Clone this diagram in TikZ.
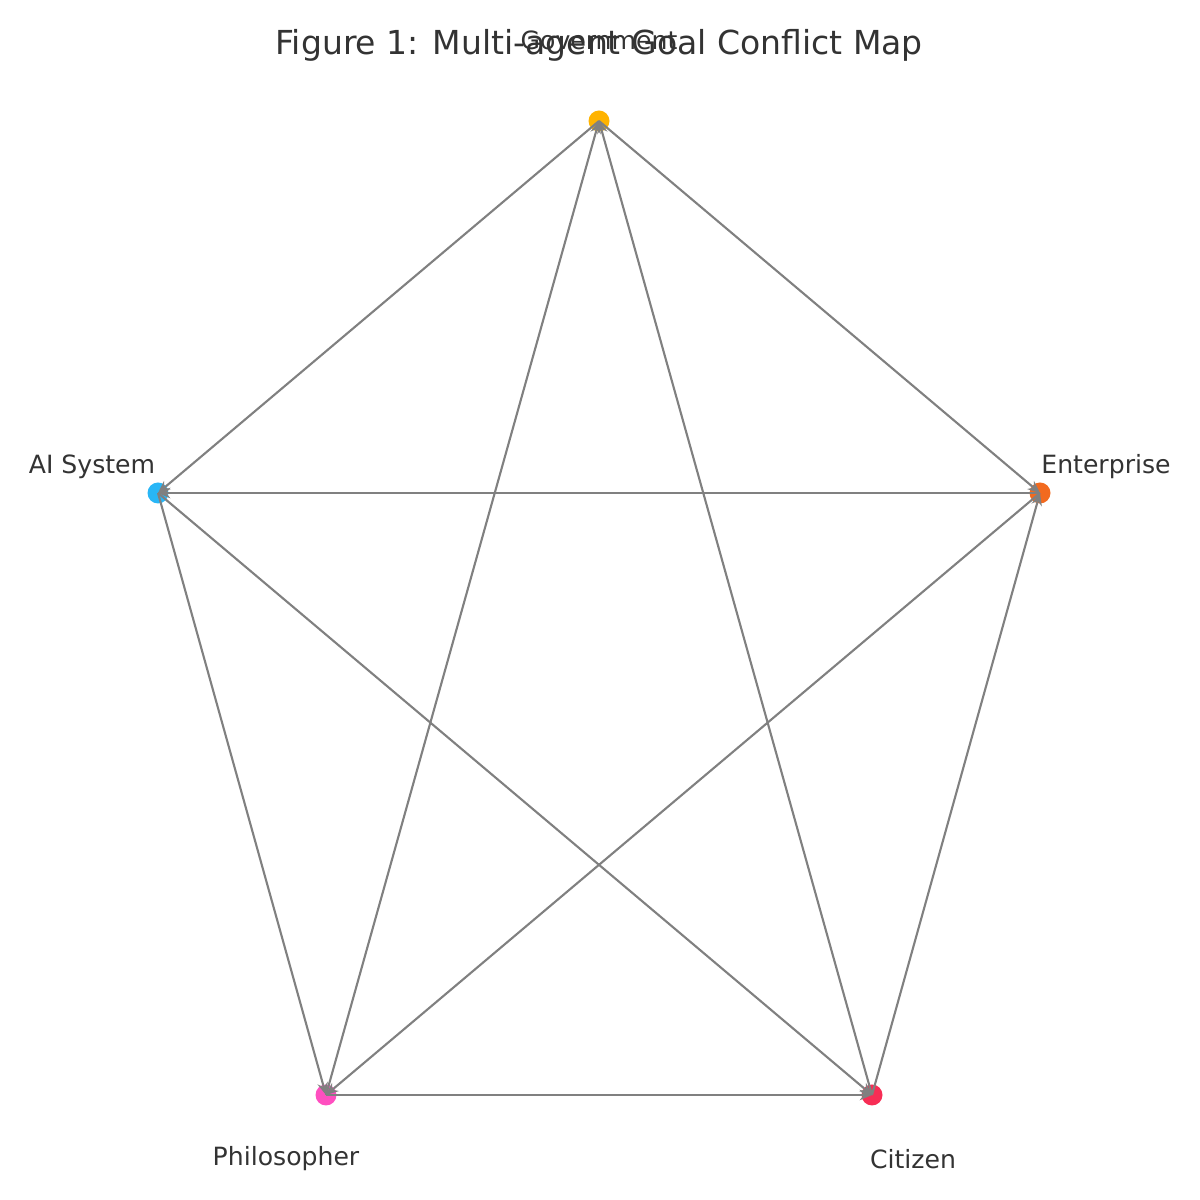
\documentclass[tikz,border=0pt]{standalone}
\usepackage{fontspec}
\setmainfont{DejaVu Sans}
\usetikzlibrary{arrows.meta}
\definecolor{govcol}{HTML}{FFB300}
\definecolor{entcol}{HTML}{F26A1F}
\definecolor{citcol}{HTML}{F72D55}
\definecolor{philcol}{HTML}{FF4FC0}
\definecolor{aicol}{HTML}{29B6F6}
\definecolor{txtcol}{HTML}{333333}
\tikzset{
    agent/.style={circle, inner sep=0pt, minimum size=0.21cm},
    conflict/.style={draw=gray, line width=0.6pt, -{Stealth[length=3.5pt, width=3pt]}},
    lbl/.style={text=txtcol, font=\fontsize{7.15}{8}\selectfont}
}
\begin{document}
\begin{tikzpicture}
    \useasboundingbox (0, 0) rectangle (12, 12);
    % agents
    \node[agent, fill=govcol] (gov) at (5.99, 10.79) {};
    \node[agent, fill=entcol] (ent) at (10.40, 7.07) {};
    \node[agent, fill=citcol] (cit) at (8.72, 1.05) {};
    \node[agent, fill=philcol] (phil) at (3.26, 1.05) {};
    \node[agent, fill=aicol] (ai) at (1.58, 7.07) {};
    % labels
    \node[lbl] (govlbl) at (5.99, 11.60) {Government};
    \node[lbl] (entlbl) at (11.06, 7.33) {Enterprise};
    \node[lbl] (citlbl) at (9.13, 0.41) {Citizen};
    \node[lbl] (phillbl) at (2.86, 0.41) {Philosopher};
    \node[lbl] (ailbl) at (0.92, 7.33) {AI System};
    \node[text=txtcol, font=\fontsize{9.4}{11}\selectfont] (title) at (5.99, 11.55)
        {Figure 1: Multi-agent Goal Conflict Map};
    % conflicts
    \draw[conflict] (phil.center) -- (gov.center);
    \draw[conflict] (cit.center) -- (gov.center);
    \draw[conflict] (gov.center) -- (ai.center);
    \draw[conflict] (gov.center) -- (ent.center);
    \draw[conflict] (ent.center) -- (ai.center);
    \draw[conflict] (ent.center) -- (phil.center);
    \draw[conflict] (cit.center) -- (ent.center);
    \draw[conflict] (ai.center) -- (cit.center);
    \draw[conflict] (ai.center) -- (phil.center);
    \draw[conflict] (phil.center) -- (cit.center);
\end{tikzpicture}
\end{document}
